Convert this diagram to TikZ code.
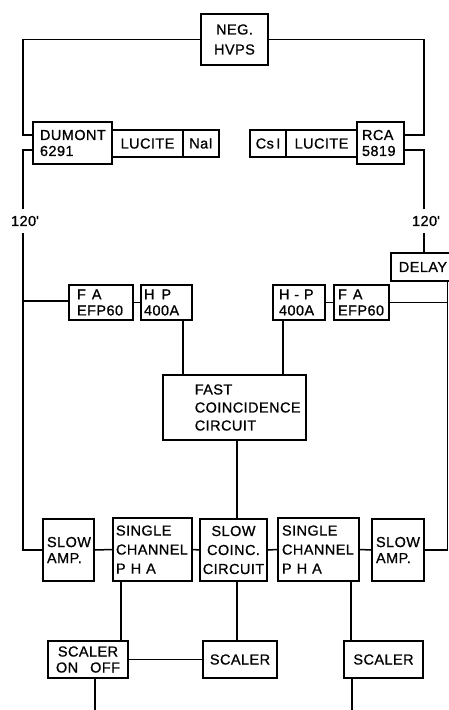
\documentclass[tikz,border=0pt]{standalone}
\usepackage{fontspec}
\setmainfont[LetterSpace=3,FakeBold=0.8]{Liberation Sans}
\begin{document}
\begin{tikzpicture}[x=1pt,y=-1pt,line width=1.5pt,
  every node/.style={font=\fontsize{14.5}{16}\selectfont},
  cbox/.style={draw,line width=1.7pt,align=center,inner sep=0pt},
  lbox/.style={draw,line width=1.7pt,align=left,inner ysep=0pt},
  txt/.style={inner sep=0pt}]
\useasboundingbox (0,0) rectangle (449,710);
\clip (0,0) rectangle (449,710);
% top
\node[cbox,minimum width=67,minimum height=51] (neg) at (234.5,39.5) {NEG.\\[4pt]HVPS};
\node[lbox,minimum height=42,inner xsep=7pt,text width=65pt] (dumont) at (72.5,143) {DUMONT\\6291};
\node[cbox,minimum width=71,minimum height=27] (luc1) at (147.5,143.5) {LUCITE};
\node[cbox,minimum width=36,minimum height=27] (nai) at (201,143.5) {NaI};
\node[cbox,minimum width=36,minimum height=27] (csi) at (268,143.5) {Cs\,I};
\node[cbox,minimum width=71,minimum height=27] (luc2) at (321.5,143.5) {LUCITE};
\node[lbox,minimum height=42,inner xsep=5pt,text width=37pt] (rca) at (380.5,143) {RCA\\5819};
\node[lbox,anchor=west,minimum height=28,inner xsep=8pt,text width=64pt] (delay) at (390,267) {DELAY};
% middle
\node[lbox,minimum height=35,inner xsep=8pt,text width=48pt] (fa1) at (101,302.5) {F\hspace{6pt}A\\EFP60};
\node[lbox,minimum height=35,inner xsep=3pt,text width=45pt] (hp1) at (166.5,302.5) {H\hspace{7pt}P\\400A};
\node[lbox,minimum height=35,inner xsep=6pt,text width=40pt] (hp2) at (299,302.5) {H - P\\400A};
\node[lbox,minimum height=35,inner xsep=4pt,text width=47pt] (fa2) at (361.5,302.5) {F\hspace{6pt}A\\EFP60};
\node[cbox,minimum width=143,minimum height=65] (fast) at (234.5,407.5) {};
\node[txt,anchor=west,align=left,font=\fontsize{14.5}{18}\selectfont] (fastt) at (194,407.5) {FAST\\COINCIDENCE\\CIRCUIT};
% bottom row
\node[lbox,minimum height=62,inner xsep=4pt,text width=43pt] (sa1) at (68.5,550) {SLOW\\AMP.};
\node[lbox,minimum height=63,inner xsep=3pt,text width=73pt,font=\fontsize{14.5}{19}\selectfont] (sc1) at (152.5,549.5) {SINGLE\\CHANNEL\\P\hspace{5pt}H\hspace{5pt}A};
\node[cbox,minimum width=67,minimum height=62,font=\fontsize{14.5}{19}\selectfont] (slc) at (233.5,550) {SLOW\\COINC.\\CIRCUIT};
\node[lbox,minimum height=63,inner xsep=4pt,text width=73pt,font=\fontsize{14.5}{19}\selectfont] (sc2) at (318.5,549.5) {SINGLE\\CHANNEL\\P\hspace{5pt}H\hspace{5pt}A};
\node[lbox,minimum height=62,inner xsep=4pt,text width=44pt] (sa2) at (398,550) {SLOW\\AMP.};
\node[cbox,minimum width=80,minimum height=37] (son) at (88,659.5) {SCALER\\ON\hspace{12pt}OFF};
\node[cbox,minimum width=74,minimum height=37] (s1) at (240,659.5) {SCALER};
\node[cbox,minimum width=79,minimum height=37] (s2) at (383.5,659.5) {SCALER};
% labels
\node[txt] (l120) at (25,221) {120\textquotesingle};
\node[txt] (r120) at (426,221) {120\textquotesingle};
% coordinates
\coordinate (lA) at (23,135);
\coordinate (lB) at (23,150);
\coordinate (lB2) at (23,209);
\coordinate (lC2) at (23,233);
\coordinate (lC) at (23,550);
\coordinate (lD) at (23,301);
\coordinate (rA) at (424,135);
\coordinate (rB) at (424,150);
\coordinate (rB2) at (424,209);
\coordinate (rC) at (424,233);
\coordinate (rD) at (447.5,301);
\coordinate (rE) at (447.5,550);
\coordinate (p1) at ([xshift=16.5pt]hp1.south);
\coordinate (p2) at ([xshift=-16pt]hp2.south);
\coordinate (p3) at ([xshift=2.5pt]fast.south);
\coordinate (p4) at ([xshift=3.5pt]slc.south);
\coordinate (p5) at ([xshift=-31.5pt]sc1.south);
\coordinate (p6) at ([xshift=32.5pt]sc2.south);
\coordinate (p7) at ([xshift=7pt]son.south);
\coordinate (p8) at ([xshift=-31.5pt]s2.south);
% connectors
\draw (neg.west) -| (lA) -- (lA -| dumont.west);
\draw (neg.east) -| (rA) -- (rA -| rca.east);
\draw (lB -| dumont.west) -- (lB) -- (lB2);
\draw (lC2) -- (lC) -- (lC -| sa1.west);
\draw (lD) -- (lD -| fa1.west);
\draw (rB -| rca.east) -- (rB) -- (rB2);
\draw (rC) -- (rC |- delay.north);
\draw (rD |- delay.south) -- (rE) -- (rE -| sa2.east);
\draw (fa2.east) -- (fa2.east -| rD);
\draw (fa1.east) -- (hp1.west);
\draw (hp2.east) -- (fa2.west);
\draw (p1) -- (p1 |- fast.north);
\draw (p2) -- (p2 |- fast.north);
\draw (p3) -- (p3 |- slc.north);
\draw (sa1.east) -- (sc1.west);
\draw (sc1.east) -- (slc.west);
\draw (slc.east) -- (sc2.west);
\draw (sc2.east) -- (sa2.west);
\draw (p4) -- (p4 |- s1.north);
\draw (p5) -- (p5 |- son.north);
\draw (p6) -- (p6 |- s2.north);
\draw (son.east) -- (s1.west);
\draw (p7) -- ++(0,40);
\draw (p8) -- ++(0,40);
\end{tikzpicture}
\end{document}
